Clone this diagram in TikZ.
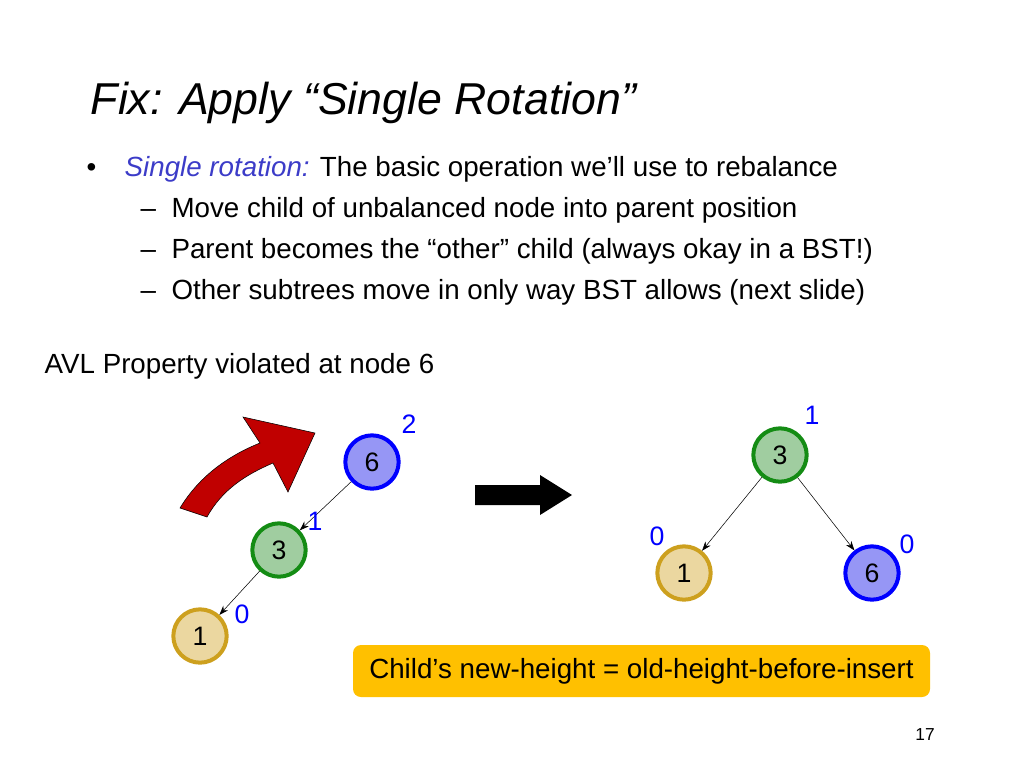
\documentclass[tikz,border=0pt]{standalone}
\usepackage{fontspec}
\setmainfont{Liberation Sans}
\usetikzlibrary{arrows.meta}
\begin{document}
\begin{tikzpicture}[x=0.75pt,y=-0.75pt,
  tn/.style={circle,line width=3pt,inner sep=0pt,minimum size=40pt,font=\fontsize{20}{22}\selectfont},
  bn/.style={tn,draw=blue,fill={rgb,255:red,150;green,150;blue,245}},
  gn/.style={tn,draw={rgb,255:red,20;green,140;blue,20},fill={rgb,255:red,160;green,205;blue,160}},
  yn/.style={tn,draw={rgb,255:red,205;green,160;blue,30},fill={rgb,255:red,235;green,215;blue,160}},
  hl/.style={text=blue,font=\fontsize{20}{22}\selectfont},
  ed/.style={-{Stealth[length=7pt,width=5pt]},thin}]
\useasboundingbox (0,0) rectangle (1024,768);
\node[anchor=base west,font=\fontsize{33.5}{38}\selectfont\itshape] (title) at (86,114) {Fix: Apply “Single Rotation”};
\begin{scope}[font=\fontsize{20.8}{24}\selectfont]
\node[anchor=base west] (b0) at (82,176) {•};
\node[anchor=base west] (b1) at (120,176) {\textcolor[RGB]{60,60,200}{\itshape Single rotation:} The basic operation we’ll use to rebalance};
\node[anchor=base west] (b2) at (136,217) {–\ \ Move child of unbalanced node into parent position};
\node[anchor=base west] (b3) at (136,258) {–\ \ Parent becomes the “other” child (always okay in a BST!)};
\node[anchor=base west] (b4) at (136,299) {–\ \ Other subtrees move in only way BST allows (next slide)};
\end{scope}
\node[anchor=base west,font=\fontsize{20.8}{24}\selectfont] (avl) at (40,373) {AVL Property violated at node 6};
% red curved arrow
\draw[fill={rgb,255:red,192;green,0;blue,0},draw=black,thin]
 (180,508) .. controls (200,475) and (230,455) .. (260,443) -- (243,417) -- (315,433) -- (288,492) -- (273,463)
 .. controls (245,475) and (222,490) .. (207,517) -- cycle;
% black arrow
\fill (475,485) -- (540,485) -- (540,475) -- (572,495) -- (540,515) -- (540,505) -- (475,505) -- cycle;
% left tree
\node[bn] (l6) at (372,462) {6};
\node[gn] (l3) at (279,550) {3};
\node[yn] (l1) at (200,636) {1};
\draw[ed] (l6) -- (l3);
\draw[ed] (l3) -- (l1);
\node[hl] (h6) at (409,424) {2};
\node[hl] (h3) at (315,521) {1};
\node[hl] (h1) at (242,614) {0};
% right tree
\node[gn] (r3) at (780,455) {3};
\node[yn] (r1) at (684,573) {1};
\node[bn] (r6) at (872,573) {6};
\draw[ed] (r3) -- (r1);
\draw[ed] (r3) -- (r6);
\node[hl] (g3) at (812,415) {1};
\node[hl] (g1) at (657,536) {0};
\node[hl] (g6) at (907,544) {0};
\node[fill={rgb,255:red,255;green,192;blue,0},rounded corners=6pt,minimum width=577*0.75pt,minimum height=52*0.75pt,font=\fontsize{20.8}{24}\selectfont] (box) at (641.5,671) {Child’s new-height = old-height-before-insert};
\node[font=\fontsize{13}{15}\selectfont] (pg) at (925,735) {17};
\end{tikzpicture}
\end{document}
